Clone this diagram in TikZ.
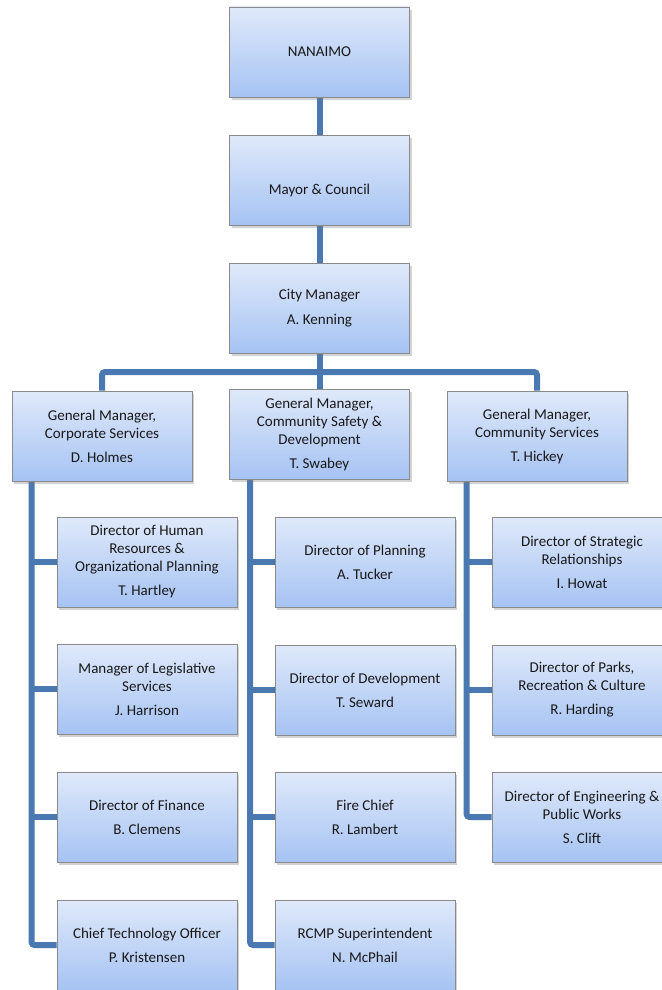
\documentclass[tikz,border=0pt]{standalone}
\usepackage{fontspec}
\setmainfont{Carlito}
\usetikzlibrary{shadows,backgrounds}

\definecolor{boxtop}{HTML}{DFE9FA}
\definecolor{boxbottom}{HTML}{A6C3F3}
\definecolor{boxline}{HTML}{8A8A8A}
\definecolor{linkblue}{HTML}{4A78B0}
\newcommand\orgfont{\fontsize{15}{18}\selectfont}

\tikzset{
  orgbox/.style={draw=boxline, line width=0.8pt, top color=boxtop, bottom color=boxbottom,
    minimum width=180pt, minimum height=90pt, align=center, font=\orgfont, text=black!90,
    drop shadow={opacity=0.35, shadow xshift=2pt, shadow yshift=-3pt}},
  link/.style={draw=linkblue, line width=6pt, rounded corners=3pt}
}

\begin{document}
\begin{tikzpicture}[x=1pt, y=-1pt]
        \useasboundingbox (0, 0) rectangle (661, 990);
        % top of the chart
        \node[orgbox] (nanaimo) at (319.5, 52) {NANAIMO};
        \node[orgbox] (mayor) at (319.5, 180) {\raisebox{-10pt}[\height][\depth]{Mayor \& Council}};
        \node[orgbox] (city) at (319.5, 308) {City Manager\\[7pt] A. Kenning};
        % general managers
        \node[orgbox] (gmcorp) at (102, 436) {General Manager,\\ Corporate Services\\[6pt] D. Holmes};
        \node[orgbox] (gmcsd) at (319.5, 434) {General Manager,\\ Community Safety \&\\ Development\\[6pt] T. Swabey};
        \node[orgbox] (gmcs) at (537, 436) {General Manager,\\ Community Services\\[6pt] T. Hickey};
        % corporate services
        \node[orgbox] (hr) at (147, 562) {Director of Human\\ Resources \&\\ Organizational Planning\\[6pt] T. Hartley};
        \node[orgbox] (legis) at (147, 689) {Manager of Legislative\\ Services\\[6pt] J. Harrison};
        \node[orgbox] (finance) at (147, 817) {Director of Finance\\[6pt] B. Clemens};
        \node[orgbox] (cto) at (147, 945) {Chief Technology Officer\\[6pt] P. Kristensen};
        % community safety & development
        \node[orgbox] (planning) at (365, 562) {Director of Planning\\[6pt] A. Tucker};
        \node[orgbox] (develop) at (365, 690) {Director of Development\\[6pt] T. Seward};
        \node[orgbox] (fire) at (365, 817) {Fire Chief\\[6pt] R. Lambert};
        \node[orgbox] (rcmp) at (365, 945) {RCMP Superintendent\\[6pt] N. McPhail};
        % community services
        \node[orgbox] (strategic) at (582, 562) {Director of Strategic\\ Relationships\\[6pt] I. Howat};
        \node[orgbox] (parks) at (582, 690) {Director of Parks,\\ Recreation \& Culture\\[6pt] R. Harding};
        \node[orgbox] (engineer) at (582, 817) {Director of Engineering \&\\ Public Works\\[6pt] S. Clift};

        \begin{scope}[on background layer]
                \draw[link] (nanaimo) -- (mayor);
                \draw[link] (mayor) -- (city);
                \draw[link] (city) -- (gmcsd);
                \coordinate (bus) at (319.5, 372);
                \draw[link] (gmcorp.north) -- (gmcorp.north |- bus) -- (gmcs.north |- bus) -- (gmcs.north);
                % spines
                \coordinate (lspine) at ([xshift=20pt]gmcorp.south west);
                \coordinate (mspine) at ([xshift=21pt]gmcsd.south west);
                \coordinate (rspine) at ([xshift=20pt]gmcs.south west);
                \draw[link] (lspine) |- (cto.west);
                \draw[link] (mspine) |- (rcmp.west);
                \draw[link] (rspine) |- (engineer.west);
                \foreach \n in {hr, legis, finance}
                        \draw[link] (lspine |- \n.west) -- (\n.west);
                \foreach \n in {planning, develop, fire}
                        \draw[link] (mspine |- \n.west) -- (\n.west);
                \foreach \n in {strategic, parks}
                        \draw[link] (rspine |- \n.west) -- (\n.west);
        \end{scope}
\end{tikzpicture}
\end{document}
